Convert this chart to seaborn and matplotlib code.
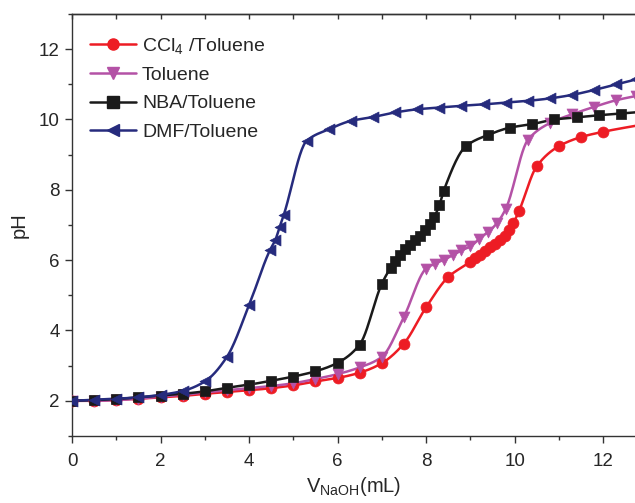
import numpy as np
import pandas as pd
import matplotlib
matplotlib.use("Agg")
import matplotlib.pyplot as plt
import seaborn as sns
from matplotlib.lines import Line2D

# -----------------------------
# Data
# -----------------------------
ccl4_x = [0, 0.5, 1, 1.5, 2, 2.5, 3, 3.5, 4, 4.5, 5, 5.5, 6, 6.5, 7, 7.5, 8, 8.5, 9,
          9.1, 9.22, 9.33, 9.45, 9.56, 9.67, 9.79, 9.88, 9.97, 10.1, 10.5, 11, 11.5, 12, 13]
ccl4_y = [2.0, 2.0, 2.03, 2.06, 2.1, 2.14, 2.2, 2.25, 2.3, 2.36, 2.44, 2.55, 2.65, 2.8, 3.07,
          3.63, 4.66, 5.52, 5.96, 6.07, 6.16, 6.26, 6.37, 6.47, 6.58, 6.7, 6.86, 7.05, 7.4,
          8.67, 9.24, 9.5, 9.65, 9.88]

toluene_x = [0, 0.5, 1, 1.5, 2, 2.5, 3, 3.5, 4, 4.5, 5, 5.5, 6, 6.5, 7, 7.5, 8, 8.2, 8.4,
             8.6, 8.8, 9.0, 9.2, 9.4, 9.6, 9.8, 10.3, 10.8, 11.3, 11.8, 12.3, 12.75]
toluene_y = [2.0, 2.0, 2.02, 2.06, 2.12, 2.17, 2.24, 2.3, 2.36, 2.42, 2.5, 2.62, 2.76, 2.95,
             3.25, 4.39, 5.76, 5.9, 6.01, 6.14, 6.28, 6.39, 6.6, 6.8, 7.05, 7.46, 9.42, 9.9,
             10.15, 10.36, 10.55, 10.67]

nba_x = [0, 0.5, 1, 1.5, 2, 2.5, 3, 3.5, 4, 4.5, 5, 5.5, 6, 6.5, 7, 7.2, 7.3, 7.41, 7.52,
         7.64, 7.75, 7.86, 7.98, 8.09, 8.18, 8.3, 8.4, 8.9, 9.4, 9.9, 10.4, 10.9, 11.4,
         11.9, 12.4, 12.9]
nba_y = [2.0, 2.02, 2.05, 2.1, 2.15, 2.2, 2.27, 2.37, 2.46, 2.57, 2.69, 2.84, 3.08, 3.6,
         5.33, 5.79, 5.99, 6.16, 6.33, 6.42, 6.56, 6.7, 6.86, 7.03, 7.22, 7.56, 7.98, 9.24,
         9.56, 9.77, 9.87, 10.0, 10.06, 10.12, 10.17, 10.22]

dmf_x = [0, 0.5, 1, 1.5, 2, 2.5, 3, 3.5, 4, 4.47, 4.59, 4.69, 4.78, 5.3, 5.8, 6.3, 6.8,
         7.3, 7.8, 8.3, 8.8, 9.3, 9.8, 10.3, 10.8, 11.3, 11.8, 12.3, 12.75]
dmf_y = [2.0, 2.03, 2.06, 2.1, 2.17, 2.28, 2.55, 3.25, 4.72, 6.28, 6.56, 6.94, 7.27, 9.39,
         9.72, 9.96, 10.07, 10.2, 10.29, 10.34, 10.39, 10.43, 10.48, 10.53, 10.6, 10.7,
         10.84, 11.0, 11.14]

labels = [r"$\mathregular{CCl_4}$ /Toluene", "Toluene", "NBA/Toluene", "DMF/Toluene"]
colors = ["#ED1C24", "#B452A6", "#1A1A1A", "#262B7D"]
markers = ["o", "v", "s", "<"]


def pchip(x, y, n=25):
    # smooth monotone curve through the points (for drawing the line only)
    x = np.asarray(x, float)
    y = np.asarray(y, float)
    h = np.diff(x)
    d = np.diff(y) / h
    m = np.zeros_like(y)
    m[0], m[-1] = d[0], d[-1]
    for k in range(1, len(x) - 1):
        if d[k - 1] * d[k] > 0:
            w1 = 2 * h[k] + h[k - 1]
            w2 = h[k] + 2 * h[k - 1]
            m[k] = (w1 + w2) / (w1 / d[k - 1] + w2 / d[k])
    xs, ys = [], []
    t = np.linspace(0, 1, n)
    for k in range(len(x) - 1):
        h00 = 2 * t**3 - 3 * t**2 + 1
        h10 = t**3 - 2 * t**2 + t
        h01 = -2 * t**3 + 3 * t**2
        h11 = t**3 - t**2
        xs.append(x[k] + t * h[k])
        ys.append(h00 * y[k] + h10 * h[k] * m[k] + h01 * y[k + 1] + h11 * h[k] * m[k + 1])
    return np.concatenate(xs), np.concatenate(ys)


sns.set_style("ticks")
plt.rcParams["font.family"] = ["Liberation Sans", "DejaVu Sans"]
plt.rcParams["mathtext.fontset"] = "custom"
plt.rcParams["mathtext.rm"] = "Liberation Sans"

fig = plt.figure(figsize=(6.35, 5.03), dpi=100)
ax = fig.add_axes([0.1134, 0.1332, 0.8866, 0.839])

series = [(ccl4_x, ccl4_y), (toluene_x, toluene_y), (nba_x, nba_y), (dmf_x, dmf_y)]
handles = []
for (x, y), lab, c, mk in zip(series, labels, colors, markers):
    xs, ys = pchip(x, y)
    curve = pd.DataFrame({"V": xs, "pH": ys})
    pts = pd.DataFrame({"V": x, "pH": y})
    sns.lineplot(data=curve, x="V", y="pH", color=c, lw=1.8, sort=False, ax=ax)
    sns.scatterplot(data=pts, x="V", y="pH", color=c, marker=mk, s=62,
                    edgecolor=c, linewidth=0.5, ax=ax, zorder=3)
    handles.append(Line2D([], [], color=c, lw=1.8, marker=mk, markersize=8, label=lab))

ax.set_xlim(0, 12.72)
ax.set_ylim(1, 13)
ax.set_xticks(np.arange(0, 13, 2))
ax.set_xticks(np.arange(1, 13, 2), minor=True)
ax.set_yticks(np.arange(2, 13, 2))
ax.set_yticks(np.arange(1, 14, 2), minor=True)
ax.tick_params(axis="both", which="major", direction="out", length=5, width=1,
               labelsize=13.5, color="#333333")
ax.tick_params(axis="both", which="minor", direction="out", length=3, width=1,
               color="#333333")
ax.tick_params(axis="x", which="major", pad=7)
ax.tick_params(axis="y", which="major", pad=4)
for sp in ["left", "bottom", "top"]:
    ax.spines[sp].set_linewidth(1)
    ax.spines[sp].set_color("#333333")
ax.spines["right"].set_visible(False)

# top spine: small inward ticks at every integer
top = ax.secondary_xaxis("top")
top.set_xticks(np.arange(0, 13, 1))
top.set_xticklabels([])
top.tick_params(direction="in", length=3.5, width=1, color="#333333")
top.spines["top"].set_linewidth(1)
top.spines["top"].set_color("#333333")

ax.set_xlabel(r"$\mathregular{V_{NaOH}(mL)}$", fontsize=14.5, labelpad=4)
ax.set_ylabel("pH", fontsize=14.5, labelpad=7)

ax.legend(handles=handles, loc="upper left", bbox_to_anchor=(0.0, 0.99), frameon=False,
          fontsize=14, handlelength=2.4, handletextpad=0.3, labelspacing=0.55)

plt.savefig("out.png", dpi=100)
